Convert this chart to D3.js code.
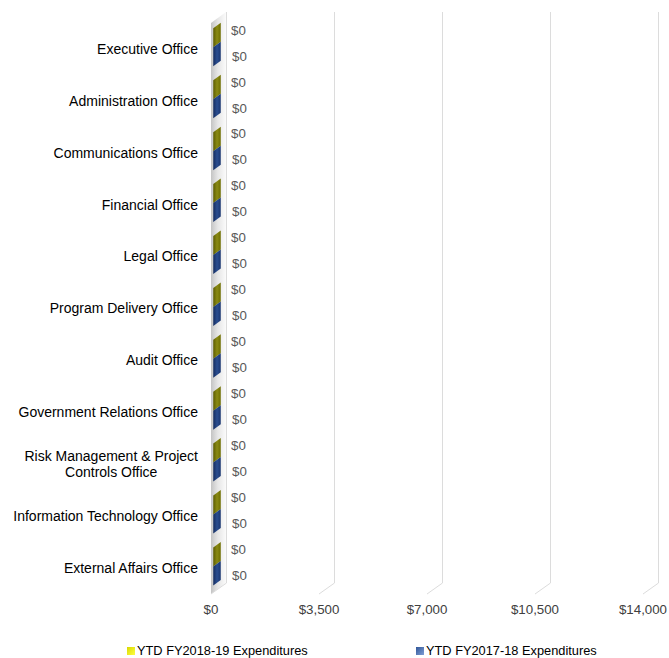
<!DOCTYPE html>
<html>
<head>
<meta charset="utf-8">
<script src="https://cdn.jsdelivr.net/npm/d3@7"></script>
<style>
  body { margin: 0; background: #fff; }
  text { font-family: "Liberation Sans", Arial, sans-serif; }
</style>
</head>
<body>
<svg id="chart" width="669" height="658"></svg>
<script>
// data
var offices = ["Executive Office", "Administration Office", "Communications Office", "Financial Office",
  "Legal Office", "Program Delivery Office", "Audit Office", "Government Relations Office",
  "Risk Management & Project\nControls Office", "Information Technology Office", "External Affairs Office"];
var ytd1819 = [0, 0, 0, 0, 0, 0, 0, 0, 0, 0, 0];
var ytd1718 = [0, 0, 0, 0, 0, 0, 0, 0, 0, 0, 0];
var seriesNames = ["YTD FY2018-19 Expenditures", "YTD FY2017-18 Expenditures"];
var xTicks = [0, 3500, 7000, 10500, 14000];

var svg = d3.select("#chart");
var defs = svg.append("defs");

// 3d depth of the plot box
var depthX = 15, depthY = -11;

var x = d3.scaleLinear().domain([0, 14000]).range([211, 643]);
var y = d3.scaleBand().domain(offices).range([23, 594]);

function grad(id, stops, x2, y2) {
  var g = defs.append("linearGradient").attr("id", id)
    .attr("x1", 0).attr("y1", 0).attr("x2", x2).attr("y2", y2);
  stops.forEach(function (s) {
    g.append("stop").attr("offset", s[0]).attr("stop-color", s[1]);
  });
}
grad("wall", [[0, "#c4c4c4"], [0.45, "#e6e6e6"], [1, "#fbfbfb"]], 1, 0);
grad("olive", [[0, "#5c5c00"], [0.5, "#8a8a14"], [1, "#6e6e00"]], 1, 0);
grad("navy", [[0, "#142c5e"], [0.5, "#2a4d8f"], [1, "#1a3670"]], 1, 0);
grad("legY", [[0, "#d8d800"], [1, "#ffff40"]], 1, 1);
grad("legB", [[0, "#2f5597"], [1, "#7f9fd6"]], 1, 1);

var plotTop = y.range()[0], plotBot = y.range()[1];

// side wall at x = 0
svg.append("path")
  .attr("d", d3.line()([[x(0), plotTop], [x(0) + depthX, plotTop + depthY],
    [x(0) + depthX, plotBot + depthY], [x(0), plotBot]]) + "Z")
  .attr("fill", "url(#wall)");

// gridlines on back wall + floor
var grid = svg.append("g").attr("stroke", "#dcdcdc").attr("fill", "none").attr("stroke-width", 1);
xTicks.forEach(function (t) {
  var xb = Math.round(x(t) + depthX) + 0.5;
  grid.append("path")
    .attr("d", d3.line()([[xb, plotTop + depthY], [xb, plotBot + depthY], [x(t), plotBot]]));
});

// bars (3d, drawn from the scales)
var inner = d3.scaleBand().domain([0, 1]).range([7, 45]);
var d0 = 0.15, d1 = 0.65;
function barShape(v, yTop, h) {
  var xf = x(v) + depthX * d0, xb = x(v) + depthX * d1;
  var yf = yTop + depthY * d0, yb = yTop + depthY * d1;
  var x0f = x(0) + depthX * d0, x0b = x(0) + depthX * d1;
  return {
    front: d3.line()([[x0f, yf], [xf, yf], [xf, yf + h], [x0f, yf + h]]) + "Z",
    top: d3.line()([[x0f, yf], [x0b, yb], [xb, yb], [xf, yf]]) + "Z",
    end: d3.line()([[xf, yf], [xb, yb], [xb, yb + h], [xf, yf + h]]) + "Z"
  };
}

var series = [ytd1819, ytd1718];
var fills = ["url(#olive)", "url(#navy)"];
var bars = svg.append("g");
offices.forEach(function (o, i) {
  series.forEach(function (s, k) {
    var sh = barShape(s[i], y(o) + inner(k), inner.bandwidth());
    bars.append("path").attr("d", sh.front).attr("fill", fills[k]);
    bars.append("path").attr("d", sh.top).attr("fill", fills[k]);
    bars.append("path").attr("d", sh.end).attr("fill", fills[k]);
  });
});

// data labels
var labels = svg.append("g").attr("font-size", 13.3).attr("fill", "#595959");
offices.forEach(function (o, i) {
  var c = y(o) + y.bandwidth() / 2;
  labels.append("text").attr("x", x(ytd1819[i]) + 20).attr("y", c - 19).attr("dy", "0.35em")
    .text(d3.format("$,")(ytd1819[i]));
  labels.append("text").attr("x", x(ytd1718[i]) + 21).attr("y", c + 7).attr("dy", "0.35em")
    .text(d3.format("$,")(ytd1718[i]));
});

// category labels
var cat = svg.append("g").attr("font-size", 14).attr("fill", "#000");
offices.forEach(function (o) {
  var lines = o.split("\n");
  var c = y(o) + y.bandwidth() / 2;
  var t = cat.append("text").attr("text-anchor", "middle");
  lines.forEach(function (ln, j) {
    t.append("tspan").attr("x", 0).attr("y", c + (j - (lines.length - 1) / 2) * 16).attr("dy", "0.35em").text(ln);
  });
  var w = d3.max(t.selectAll("tspan").nodes(), function (n) { return n.getComputedTextLength(); });
  t.selectAll("tspan").attr("x", 198 - w / 2);
});

// x axis labels
svg.append("g").attr("font-size", 13.3).attr("fill", "#404040")
  .selectAll("text").data(xTicks).join("text")
  .attr("x", function (d) { return x(d); })
  .attr("y", 609).attr("dy", "0.35em").attr("text-anchor", "middle")
  .text(function (d) { return d3.format("$,")(d); });

// legend
var legX = [127, 416];
var leg = svg.append("g").attr("font-size", 12.8).attr("fill", "#000");
seriesNames.forEach(function (n, k) {
  leg.append("rect").attr("x", legX[k]).attr("y", 647).attr("width", 8).attr("height", 8)
    .attr("fill", k === 0 ? "url(#legY)" : "url(#legB)");
  leg.append("text").attr("x", legX[k] + 10).attr("y", 651).attr("dy", "0.35em").text(n);
});
</script>
</body>
</html>
